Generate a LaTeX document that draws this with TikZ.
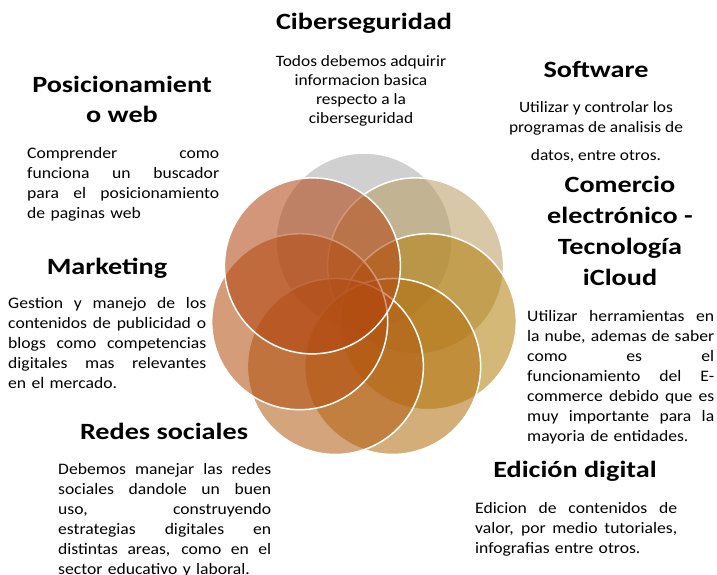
\documentclass[tikz,border=0pt]{standalone}
\usepackage{fontspec}
\setmainfont{Carlito}[FakeStretch=1.1]
\newfontfamily\headfont{Carlito}[FakeStretch=1.21]
\usetikzlibrary{positioning}
\definecolor{petalgray}{RGB}{171,171,171}
\definecolor{petaltan}{RGB}{185,157,100}
\definecolor{petalgold}{RGB}{178,128,14}
\definecolor{petalochre}{RGB}{178,110,14}
\definecolor{petalbrown}{RGB}{178,92,21}
\definecolor{petalclay}{RGB}{178,78,14}
\definecolor{petalrust}{RGB}{178,68,17}
% one justified line: spaces stretch to fill the block width
\newcommand{\jline}[1]{\leavevmode\hbox to \bw{\spaceskip=0.22em plus 1fil\relax #1}}

\begin{document}
\begin{tikzpicture}[x=1pt, y=1pt,
	title/.style={font=\headfont\fontsize{23.3}{31}\selectfont\bfseries, align=center, inner sep=0pt, anchor=base},
	body/.style={font=\fontsize{16}{20}\selectfont, align=left, inner sep=0pt, anchor=base west,
		text width=#1, execute at begin node={\def\bw{#1pt}}},
	bodyc/.style={font=\fontsize{15.8}{19}\selectfont, align=center, inner sep=0pt, anchor=base}]
		\useasboundingbox (0,0) rectangle (717,-574);
		% seven overlapping circles
		\foreach \ang/\col in {90/petalgray, 38.57/petaltan, -12.86/petalgold, -64.29/petalochre, -115.71/petalbrown, -167.14/petalclay, 141.43/petalrust}{
			\draw [white, line width=1.5, fill=\col, fill opacity=0.56] (364,-307) ++(\ang:66) circle (88);
		}
		\node [title] (ciber) at (364,-29) {Ciberseguridad};
		\node [bodyc] (ciberTxt) at (361,-123) {Todos debemos adquirir\\informacion basica\\respecto a la\\ciberseguridad};
		\node [title] (soft) at (596,-77) {Software};
		\node [bodyc] (softTxt) at (596,-160) {Utilizar y controlar los\\[1pt]programas de analisis de\\[9pt]datos, entre otros.};
		\node [title] (comercio) at (620,-285) {Comercio\\electrónico -\\Tecnología\\iCloud};
		\node [body=187] (comercioTxt) at (527,-321) {\jline{Utilizar herramientas en}\\\jline{la nube, ademas de saber}\\\jline{como es el}\\\jline{funcionamiento del E-}\\\jline{commerce debido que es}\\\jline{muy importante para la}\\mayoria de entidades.};
		\node [title] (edicion) at (575,-477) {Edición digital};
		\node [body=202] (edicionTxt) at (475,-513) {\jline{Edicion de contenidos de}\\\jline{valor, por medio tutoriales,}\\infografias entre otros.};
		\node [title] (redes) at (164,-439) {Redes sociales};
		\node [body=213] (redesTxt) at (58,-474) {\jline{Debemos manejar las redes}\\\jline{sociales dandole un buen}\\\jline{uso, construyendo}\\\jline{estrategias digitales en}\\\jline{distintas areas, como en el}\\sector educativo y laboral.};
		\node [title] (marketing) at (107,-274) {Marketing};
		\node [body=198] (marketingTxt) at (8,-308) {\jline{Gestion y manejo de los}\\\jline{contenidos de publicidad o}\\\jline{blogs como competencias}\\\jline{digitales mas relevantes}\\en el mercado.};
		\node [title] (posic) at (122,-122) {Posicionamient\\[-1pt]o web};
		\node [body=192] (posicTxt) at (27,-158) {\jline{Comprender como}\\\jline{funciona un buscador}\\\jline{para el posicionamiento}\\de paginas web};
	\end{tikzpicture}
\end{document}
